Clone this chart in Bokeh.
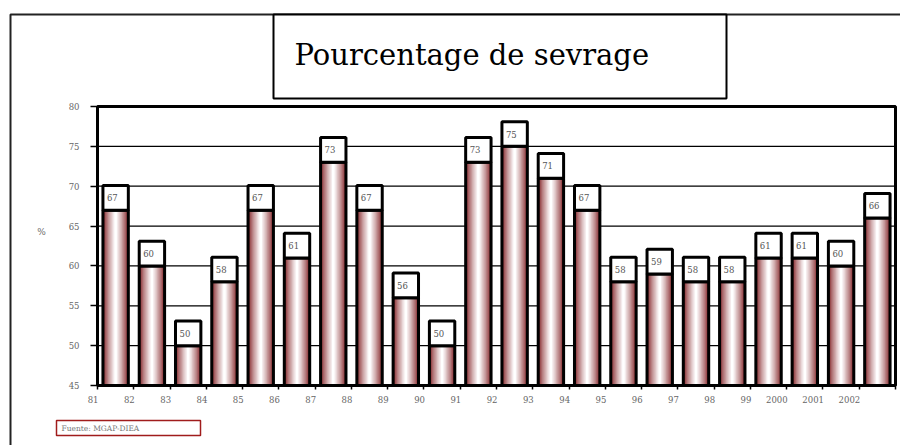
from bokeh.plotting import figure
from bokeh.models import ColumnDataSource, Range1d, BoxAnnotation, Label, FixedTicker
from bokeh.embed import file_html
from bokeh.resources import INLINE
from bokeh.core.properties import value

# ---- data ----
years = ["81", "82", "83", "84", "85", "86", "87", "88", "89", "90", "91",
         "92", "93", "94", "95", "96", "97", "98", "99", "2000", "2001", "2002"]
values = [67, 60, 50, 58, 67, 61, 73, 67, 56, 50, 73,
          75, 71, 67, 58, 59, 58, 58, 61, 61, 60, 66]
y_ticks = [45, 50, 55, 60, 65, 70, 75, 80]
title_text = "Pourcentage de sevrage"
source_text = "Fuente: MGAP-DIEA"
y_label = "%"

# ---- layout / styling constants (pixels) ----
W, H = 900, 445
PL, PR, PT, PB = 97, 895, 106, 385      # plot area in canvas pixels
BAR_W = 0.7
BOX_H = 3.1
SERIF = "DejaVu Serif"

N = len(values)
Y0, Y1 = y_ticks[0], y_ticks[-1]
ppx = (PR - PL) / N
ppy = (PB - PT) / (Y1 - Y0)
x_range = Range1d(-PL / ppx, N + (W - PR) / ppx)
y_range = Range1d(Y0 - (H - PB) / ppy, Y1 + PT / ppy)

src = ColumnDataSource(dict(
    x=[i + 0.5 for i in range(N)],
    xl=[i + 0.5 - BAR_W / 2 for i in range(N)],
    v=values,
    box_top=[v + BOX_H for v in values],
    box_mid=[v + BOX_H / 2 for v in values],
    lab=[str(v) for v in values],
))
tick_src = ColumnDataSource(dict(
    x=list(range(len(years))),
    y=[Y0] * len(years),
    lab=years,
))

p = figure(width=W, height=H, output_backend="svg", toolbar_location=None,
           x_range=x_range, y_range=y_range, min_border=0,
           background_fill_color="white", border_fill_color="white")
p.outline_line_color = None
p.xgrid.visible = False
p.ygrid.visible = False

# horizontal grid lines within the plot area
p.segment(x0=[0] * len(y_ticks), x1=[N] * len(y_ticks), y0=y_ticks, y1=y_ticks,
          line_color="black", line_width=1.3)

# y axis
yax = p.yaxis[0]
yax.fixed_location = 0
yax.bounds = (Y0, Y1)
yax.ticker = FixedTicker(ticks=y_ticks)
yax.axis_line_width = 3
yax.major_tick_out = 7
yax.major_tick_in = 0
yax.major_tick_line_width = 1.5
yax.minor_tick_line_color = None
yax.major_label_standoff = 11
yax.major_label_text_font = SERIF
yax.major_label_text_font_size = "8.5px"
yax.major_label_text_color = "#666666"

# x axis (tick marks at category boundaries)
xax = p.xaxis[0]
xax.fixed_location = Y0
xax.bounds = (0, N)
xax.ticker = FixedTicker(ticks=list(range(N + 1)))
xax.major_label_text_color = None
xax.axis_line_width = 3
xax.major_tick_out = 4
xax.major_tick_in = 0
xax.major_tick_line_width = 1.5
xax.minor_tick_line_color = None

# x tick labels: right-aligned at each boundary tick
p.text(x="x", y="y", text="lab", source=tick_src, x_offset=1, y_offset=14,
       text_align="right", text_baseline="middle",
       text_font=value(SERIF), text_font_size="8.5px", text_color="#666666")

# gradient bars (nested strips, dark red edges -> white centre)
n = 10
dark = (132, 36, 40)
for k in range(n):
    t = (k / (n - 1)) ** 0.8
    c = tuple(int(round(d + (255 - d) * t)) for d in dark)
    col = "#%02x%02x%02x" % c
    w = BAR_W * (1 - k / n)
    p.vbar(x="x", width=w, bottom=Y0, top="v", source=src,
           fill_color=col, line_color=None)
p.vbar(x="x", width=BAR_W, bottom=Y0, top="v", source=src,
       fill_color=None, line_color="black", line_width=3)

# value boxes
p.vbar(x="x", width=BAR_W, bottom="v", top="box_top", source=src,
       fill_color="white", line_color="black", line_width=3)
p.text(x="xl", y="box_mid", text="lab", source=src, x_offset=4,
       text_align="left", text_baseline="middle",
       text_font=value(SERIF), text_font_size="8.5px", text_color="#555555")

# plot-area frame (top and right edges thick)
p.add_layout(BoxAnnotation(left=0, right=N, bottom=Y0, top=Y1,
                           fill_color=None, line_color="black", line_alpha=1.0, line_width=3))


def scr_box(l, r, t, b, **kw):
    return BoxAnnotation(left=l, right=r, top=H - t, bottom=H - b,
                         left_units="screen", right_units="screen",
                         top_units="screen", bottom_units="screen", **kw)


# outer frame
p.add_layout(scr_box(10, 1200, 14, 700, fill_color=None,
                     line_color="#222222", line_alpha=1.0, line_width=2))
# title box
p.add_layout(scr_box(273, 726, 14, 98, fill_color="white", fill_alpha=1.0,
                     line_color="black", line_alpha=1.0, line_width=2))
p.add_layout(Label(x=294, y=H - 54, x_units="screen", y_units="screen", text=title_text,
                   text_font=SERIF, text_font_size="29px", text_color="black",
                   text_align="left", text_baseline="alphabetic"))
# y axis label
p.add_layout(Label(x=41, y=H - 231, x_units="screen", y_units="screen", text=y_label,
                   text_font=SERIF, text_font_size="9px", text_color="#666666",
                   text_align="center", text_baseline="middle"))
# source box
p.add_layout(scr_box(56, 200, 420, 435, fill_color=None,
                     line_color="#a01c1c", line_alpha=1.0, line_width=1.5))
p.add_layout(Label(x=61, y=H - 427.5, x_units="screen", y_units="screen", text=source_text,
                   text_font=SERIF, text_font_size="7.5px", text_color="#777777",
                   text_align="left", text_baseline="middle"))

open("out.html", "w").write(file_html(p, INLINE))
